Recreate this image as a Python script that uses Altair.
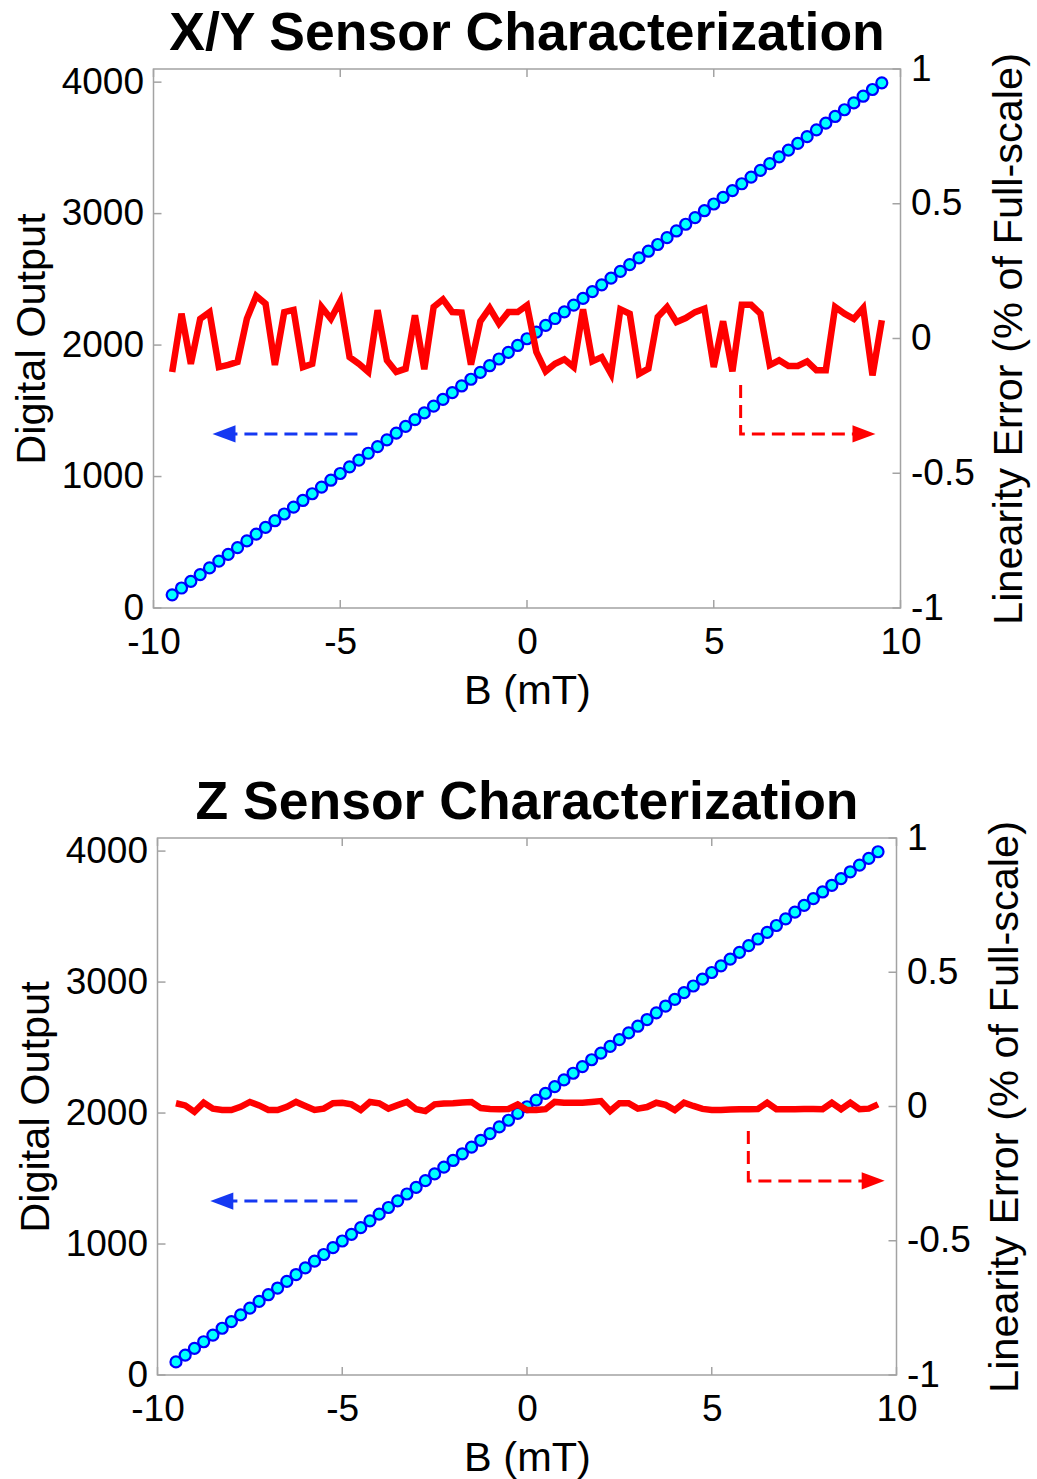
import altair as alt
import pandas as pd

# Applied field sweep (mT)
field_mT = [
    -9.5, -9.25, -9.0, -8.75, -8.5, -8.25, -8.0, -7.75, -7.5, -7.25,
    -7.0, -6.75, -6.5, -6.25, -6.0, -5.75, -5.5, -5.25, -5.0, -4.75,
    -4.5, -4.25, -4.0, -3.75, -3.5, -3.25, -3.0, -2.75, -2.5, -2.25,
    -2.0, -1.75, -1.5, -1.25, -1.0, -0.75, -0.5, -0.25, 0.0, 0.25,
    0.5, 0.75, 1.0, 1.25, 1.5, 1.75, 2.0, 2.25, 2.5, 2.75,
    3.0, 3.25, 3.5, 3.75, 4.0, 4.25, 4.5, 4.75, 5.0, 5.25,
    5.5, 5.75, 6.0, 6.25, 6.5, 6.75, 7.0, 7.25, 7.5, 7.75,
    8.0, 8.25, 8.5, 8.75, 9.0, 9.25, 9.5,
]

# ADC code read back at each field step
adc_counts = [
    100, 152, 203, 254, 305, 357, 408, 459, 510, 562,
    613, 664, 715, 767, 818, 869, 920, 972, 1023, 1074,
    1125, 1177, 1228, 1279, 1330, 1382, 1433, 1484, 1535, 1587,
    1638, 1689, 1740, 1792, 1843, 1894, 1945, 1997, 2048, 2099,
    2150, 2202, 2253, 2304, 2355, 2407, 2458, 2509, 2560, 2612,
    2663, 2714, 2765, 2817, 2868, 2919, 2970, 3022, 3073, 3124,
    3175, 3227, 3278, 3329, 3380, 3432, 3483, 3534, 3585, 3637,
    3688, 3739, 3790, 3842, 3893, 3944, 3995,
]

# Linearity error, % of full scale
xy_error = [
    -0.124, 0.092, -0.094, 0.073, 0.098, -0.106, -0.098, -0.087, 0.073, 0.158,
    0.129, -0.098, 0.098, 0.106, -0.106, -0.094, 0.117, 0.073, 0.138, -0.069,
    -0.094, -0.124, 0.105, -0.081, -0.124, -0.112, 0.086, -0.114, 0.117, 0.145,
    0.098, 0.096, -0.097, 0.064, 0.113, 0.055, 0.098, 0.098, 0.123, -0.050,
    -0.122, -0.094, -0.077, -0.106, 0.108, -0.085, -0.069, -0.131, 0.108, 0.092,
    -0.131, -0.112, 0.080, 0.117, 0.061, 0.076, 0.098, 0.111, -0.106, 0.064,
    -0.122, 0.125, 0.125, 0.092, -0.099, -0.081, -0.102, -0.102, -0.085, -0.118,
    -0.118, 0.117, 0.092, 0.073, 0.113, -0.137, 0.068,
]

z_error = [
    0.012, 0.004, -0.020, 0.014, -0.008, -0.013, -0.013, -0.001, 0.017, 0.004,
    -0.013, -0.013, -0.001, 0.017, 0.002, -0.013, -0.008, 0.012, 0.014, 0.008,
    -0.013, 0.017, 0.012, -0.008, 0.005, 0.017, -0.010, -0.017, 0.008, 0.011,
    0.012, 0.015, 0.017, -0.006, -0.009, -0.010, -0.009, 0.008, -0.013, -0.013,
    -0.010, 0.017, 0.014, 0.014, 0.014, 0.017, 0.020, -0.017, 0.012, 0.012,
    -0.008, -0.002, 0.014, 0.006, -0.013, 0.014, 0.002, -0.009, -0.013, -0.013,
    -0.011, -0.010, -0.010, -0.009, 0.014, -0.010, -0.010, -0.010, -0.009, -0.009,
    -0.010, 0.014, -0.010, 0.014, -0.010, -0.008, 0.008,
]

x_ticks = [-10, -5, 0, 5, 10]
left_ticks = [0, 1000, 2000, 3000, 4000]
right_ticks = [-1, -0.5, 0, 0.5, 1]

# Arrow annotations (field mT / error %): which axis each trace belongs to
xy_left_arrow = {"tail": -4.54, "tip": -8.42, "y": -0.354}
xy_right_arrow = {"x": 5.72, "top": -0.173, "y": -0.354, "tip": 9.33}
z_left_arrow = {"tail": -4.59, "tip": -8.57, "y": -0.352}
z_right_arrow = {"x": 5.99, "top": -0.091, "y": -0.277, "tip": 9.68}

FONT = "Liberation Sans"
BOX = "#a3a3a3"
DOT_FILL = "#00ffff"
DOT_EDGE = "#0000ff"
ARROW_BLUE = "#1538f2"
RED = "#ff0000"
HEAD_LEFT = "M-1,0L1,-0.75L1,0.75Z"
HEAD_RIGHT = "M1,0L-1,-0.75L-1,0.75Z"
HEAD_PX = 23
TICK_LEN = 8
NUM_LABEL = "datum.value + ''"


def sensor_panel(title, err, w, h, larrow, rarrow):
    px_per_unit = w / 20.0
    head_shift = (HEAD_PX / 2) / px_per_unit

    x_scale = alt.Scale(domain=[-10, 10], nice=False, zero=False)
    x_axis = alt.Axis(title="B (mT)", values=x_ticks, labelExpr=NUM_LABEL,
                      labelPadding=16, titlePadding=10)
    l_scale = alt.Scale(domain=[0, 4100], nice=False, zero=False)
    l_axis = alt.Axis(title="Digital Output", values=left_ticks, orient="left",
                      labelExpr=NUM_LABEL, labelPadding=10, titlePadding=8)
    r_scale = alt.Scale(domain=[-1, 1], nice=False, zero=False)
    r_axis = alt.Axis(title="Linearity Error (% of Full-scale)", values=right_ticks,
                      orient="right", labelExpr=NUM_LABEL, labelPadding=10,
                      titlePadding=14, titleAngle=270, titleBaseline="top")

    def X(f):
        return alt.X(f"{f}:Q", scale=x_scale, axis=x_axis)

    def YL(f):
        return alt.Y(f"{f}:Q", scale=l_scale, axis=l_axis)

    def YR(f):
        return alt.Y(f"{f}:Q", scale=r_scale, axis=r_axis)

    df = pd.DataFrame({"B": field_mT, "out": adc_counts, "err": err})

    dots = alt.Chart(df).mark_point(
        shape="circle", filled=True, fill=DOT_FILL, stroke=DOT_EDGE,
        strokeWidth=2.2, size=121, opacity=1
    ).encode(x=X("B"), y=YL("out"))

    xt = pd.DataFrame({"B": x_ticks})
    xt_bottom = alt.Chart(xt).mark_rule(color=BOX, strokeWidth=1.5).encode(
        x=X("B"), y=alt.value(h), y2=alt.value(h - TICK_LEN))
    xt_top = alt.Chart(xt).mark_rule(color=BOX, strokeWidth=1.5).encode(
        x=X("B"), y=alt.value(0), y2=alt.value(TICK_LEN))
    lt = alt.Chart(pd.DataFrame({"out": left_ticks})).mark_rule(
        color=BOX, strokeWidth=1.5).encode(
        y=YL("out"), x=alt.value(0), x2=alt.value(TICK_LEN))

    left = alt.layer(dots, xt_bottom, xt_top, lt)

    err_line = alt.Chart(df).mark_line(
        color=RED, strokeWidth=6.5, strokeJoin="miter"
    ).encode(x=X("B"), y=YR("err"))

    rt = alt.Chart(pd.DataFrame({"err": right_ticks})).mark_rule(
        color=BOX, strokeWidth=1.5).encode(
        y=YR("err"), x=alt.value(w), x2=alt.value(w - TICK_LEN))

    # Blue arrow: points toward the left-hand (Digital Output) axis
    blue_path = pd.DataFrame({
        "B": [larrow["tail"], larrow["tip"] + head_shift],
        "err": [larrow["y"], larrow["y"]],
        "seq": [0, 1],
    })
    blue_shaft = alt.Chart(blue_path).mark_line(
        color=ARROW_BLUE, strokeWidth=3, strokeDash=[13, 7]
    ).encode(x=X("B"), y=YR("err"), order="seq:Q")
    blue_head = alt.Chart(pd.DataFrame({
        "B": [larrow["tip"] + head_shift], "err": [larrow["y"]]
    })).mark_point(shape=HEAD_LEFT, size=HEAD_PX ** 2, filled=True,
                   color=ARROW_BLUE, opacity=1, strokeWidth=0).encode(
        x=X("B"), y=YR("err"))

    # Red elbow arrow: points toward the right-hand (Linearity Error) axis
    red_path = pd.DataFrame({
        "B": [rarrow["x"], rarrow["x"], rarrow["tip"] - head_shift],
        "err": [rarrow["top"], rarrow["y"], rarrow["y"]],
        "seq": [0, 1, 2],
    })
    red_shaft = alt.Chart(red_path).mark_line(
        color=RED, strokeWidth=3, strokeDash=[13, 7]
    ).encode(x=X("B"), y=YR("err"), order="seq:Q")
    red_head = alt.Chart(pd.DataFrame({
        "B": [rarrow["tip"] - head_shift], "err": [rarrow["y"]]
    })).mark_point(shape=HEAD_RIGHT, size=HEAD_PX ** 2, filled=True,
                   color=RED, opacity=1, strokeWidth=0).encode(
        x=X("B"), y=YR("err"))

    right = alt.layer(err_line, rt, blue_shaft, blue_head, red_shaft, red_head)

    return alt.layer(left, right).resolve_scale(y="independent").properties(
        width=w, height=h,
        title=alt.Title(title, fontSize=53.5, fontWeight="bold", anchor="middle",
                        frame="group", offset=-11, font=FONT, color="black"),
    )


top = sensor_panel("X/Y Sensor Characterization", xy_error, 747, 539,
                   xy_left_arrow, xy_right_arrow)
bottom = sensor_panel("Z Sensor Characterization", z_error, 739, 537,
                      z_left_arrow, z_right_arrow)

chart = alt.vconcat(top, bottom, spacing=61, center=True).properties(
    padding={"left": 10, "top": 5, "right": 5, "bottom": 5},
    background="white",
).configure_view(
    stroke=BOX, strokeWidth=1.5
).configure_axis(
    domain=False, ticks=False, grid=False,
    labelFont=FONT, labelFontSize=37, labelColor="black",
    titleFont=FONT, titleFontSize=41.5, titleFontWeight="normal", titleColor="black",
    labelOverlap=False, labelFlush=False,
)

chart.save("out.html", embed_options={"renderer": "svg", "actions": False})
